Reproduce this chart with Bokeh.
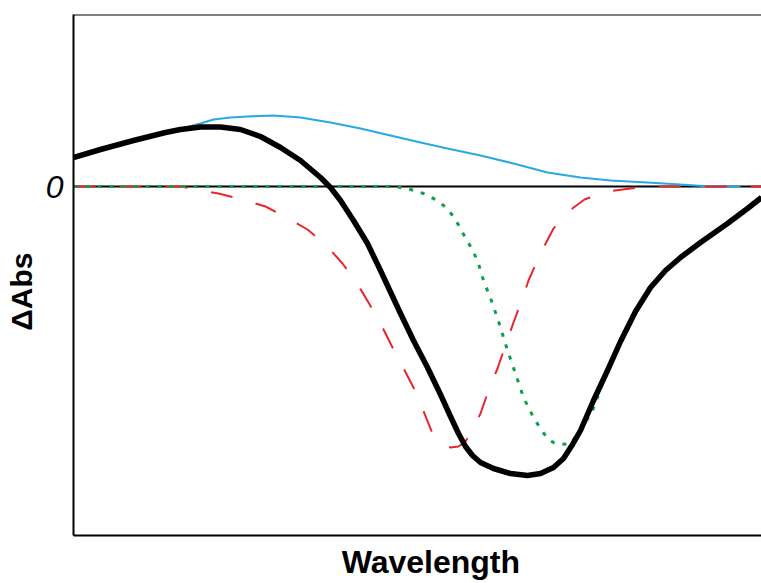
from bokeh.plotting import figure
from bokeh.models import Range1d, FixedTicker, Span
from bokeh.embed import file_html
from bokeh.resources import INLINE

# Arbitrary units: wavelength position (x) and ΔAbs (y)
black_x = [0, 27, 60, 92, 107, 127, 147, 167, 187, 207, 227, 247, 257, 267, 280, 294, 307, 320, 327, 340,
           354, 367, 377, 385, 392, 399, 407, 420, 437, 454, 467, 480, 490, 499, 507, 520, 534, 547, 562,
           577, 592, 607, 627, 654, 674, 688]
black_y = [29, 37, 46, 54, 57, 59.5, 59.5, 57, 50, 39, 26, 9, -1, -14, -34, -57, -84, -112, -127, -154,
           -181, -208, -230, -247, -260, -269, -276, -282, -287, -289, -287, -281, -272, -258, -244, -214,
           -184, -155, -125, -101, -84, -71, -56, -37, -22, -11]

blue_x = [0, 27, 60, 92, 112, 127, 140, 157, 174, 200, 227, 257, 287, 317, 347, 374, 407, 440, 474, 487,
          507, 537, 574, 607, 637, 667]
blue_y = [29, 37, 46, 54, 59, 63, 67, 69, 70, 71, 69, 64, 58, 51, 44, 38, 31, 23, 14, 12, 9, 6, 4, 2, 0, 0]

red_x = [0, 107, 120, 145, 169, 192, 213, 234, 252, 269, 283, 295, 307, 317, 327, 340, 349, 359, 369, 377,
         385, 392, 397, 407, 415, 424, 432, 440, 449, 455, 467, 480, 492, 511, 534, 557, 572, 688]
red_y = [0, 0, -2.5, -7, -13, -20, -31, -43, -58, -77, -96, -116, -137, -157, -176, -201, -222, -247, -258,
         -261, -260, -255, -247, -227, -204, -182, -159, -136, -112, -94, -67, -42, -27, -13, -5, -2, 0, 0]

green_x = [0, 322, 337, 350, 362, 374, 382, 389, 397, 404, 410, 419, 427, 434, 442, 450, 460, 467, 474, 480,
           487, 497, 509, 519, 522, 534, 547, 562, 577, 592, 607, 627, 654, 674, 688]
green_y = [0, 0, -3, -7, -13, -22, -33, -46, -60, -74, -94, -117, -141, -164, -187, -211, -231, -242, -252,
           -256, -258, -257, -241, -224, -216, -184, -155, -125, -101, -84, -71, -56, -37, -22, -11]

y_ticks = [0]
y_tick_labels = {0: "0"}
x_label = "Wavelength"
y_label = "ΔAbs"

FONT = "Liberation Sans"
NBSP = "\u00a0"

p = figure(width=761, height=583, output_backend="svg", toolbar_location=None,
           x_range=Range1d(0, 688), y_range=Range1d(-349, 172),
           min_border_left=73, min_border_top=14, min_border_bottom=48, min_border_right=0)
p.outline_line_color = None
p.grid.visible = False
p.background_fill_color = "white"
p.border_fill_color = "white"

# x axis: line and title (title sits a little right of centre, as in the original)
p.xaxis.ticker = FixedTicker(ticks=[])
p.xaxis.major_tick_line_color = None
p.xaxis.minor_tick_line_color = None
p.xaxis.axis_line_width = 2
p.xaxis.axis_line_color = "black"
p.xaxis.axis_label = NBSP * 3 + x_label
p.xaxis.axis_label_text_font = FONT
p.xaxis.axis_label_text_font_style = "bold"
p.xaxis.axis_label_text_font_size = "32px"
p.xaxis.axis_label_text_color = "black"
p.xaxis.axis_label_standoff = 8

# y axis: line, the single "0" tick label and title (a little below centre)
p.yaxis.ticker = FixedTicker(ticks=y_ticks)
p.yaxis.major_label_overrides = y_tick_labels
p.yaxis.major_tick_line_color = None
p.yaxis.minor_tick_line_color = None
p.yaxis.axis_line_width = 2
p.yaxis.axis_line_color = "black"
p.yaxis.major_label_text_font = FONT
p.yaxis.major_label_text_font_style = "italic"
p.yaxis.major_label_text_font_size = "32px"
p.yaxis.major_label_text_color = "black"
p.yaxis.major_label_standoff = 4
p.yaxis.axis_label = y_label + NBSP * 4
p.yaxis.axis_label_text_font = FONT
p.yaxis.axis_label_text_font_style = "bold"
p.yaxis.axis_label_text_font_size = "30px"
p.yaxis.axis_label_text_color = "black"
p.yaxis.axis_label_standoff = 5

# top border and zero line
p.add_layout(Span(location=172, dimension="width", line_color="black", line_width=2))
p.add_layout(Span(location=0, dimension="width", line_color="black", line_width=2, level="underlay"))

p.line(blue_x, blue_y, line_color="#29A9E1", line_width=2.2, line_join="round")
p.line(red_x, red_y, line_color="#E8262C", line_width=2, line_dash="22 24")
p.line(green_x, green_y, line_color="#0CA04A", line_width=3, line_dash="4 8")
p.line(black_x, black_y, line_color="black", line_width=5.5, line_join="round")

open("out.html", "w").write(file_html(p, INLINE))
